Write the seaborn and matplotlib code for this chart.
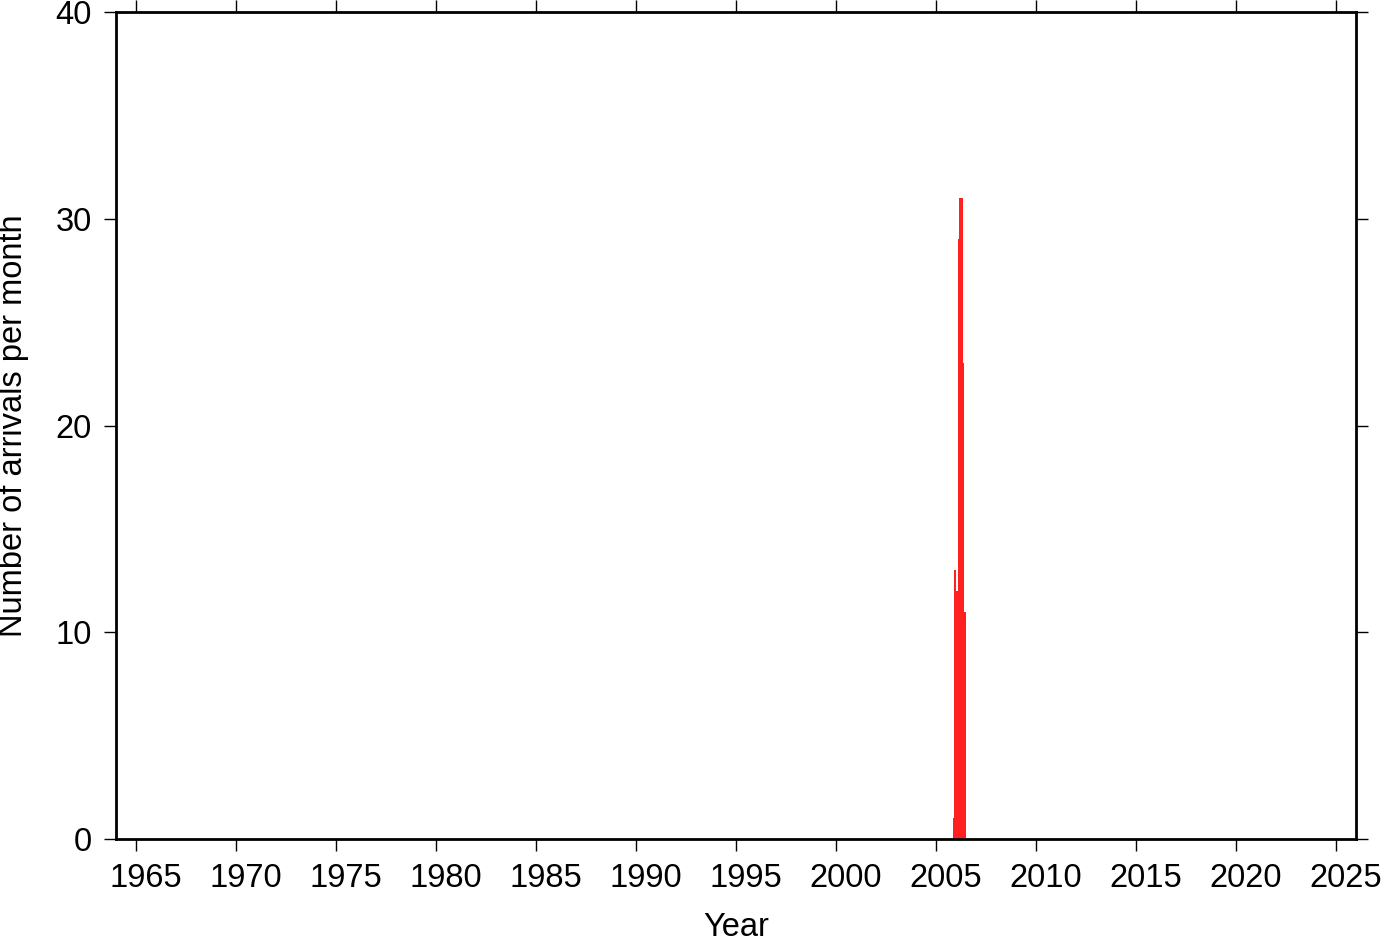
import numpy as np
import pandas as pd
import matplotlib
matplotlib.use("Agg")
import matplotlib.pyplot as plt
import matplotlib.transforms as mtransforms
import seaborn as sns

# Monthly arrival counts
months = ["2005-11", "2005-12", "2006-01", "2006-02", "2006-03", "2006-04", "2006-05", "2006-06"]
counts = [1, 13, 12, 29, 31, 31, 23, 11]

year_ticks = [1965, 1970, 1975, 1980, 1985, 1990, 1995, 2000, 2005, 2010, 2015, 2020, 2025]
count_ticks = [0, 10, 20, 30, 40]

sns.set_style("white")
plt.rcParams["font.family"] = ["Liberation Sans", "DejaVu Sans"]
plt.rcParams["text.color"] = "black"
plt.rcParams["axes.labelcolor"] = "black"
plt.rcParams["xtick.color"] = "black"
plt.rcParams["ytick.color"] = "black"

dec = [int(m[:4]) + (int(m[5:]) - 1) / 12 + 1 / 24 for m in months]
df = pd.DataFrame({"t": dec, "n": counts})

fig = plt.figure(figsize=(13.82, 9.42), dpi=100)
ax = fig.add_axes([116 / 1382, 1 - 839 / 942, 1240 / 1382, 827 / 942])

sns.histplot(data=df, x="t", weights="n", binwidth=1 / 12, binrange=(2005, 2007),
             color="#ff2020", alpha=1, edgecolor="none", linewidth=0, ax=ax)

ax.set_xlim(1964, 2026)
ax.set_ylim(0, 40)
ax.set_xticks(year_ticks)
ax.set_yticks(count_ticks)
ax.set_xlabel("Year", fontsize=23.5)
ax.set_ylabel("Number of arrivals per month", fontsize=23.5)
ax.xaxis.label.set_va("center")
ax.yaxis.label.set_va("center")
ax.xaxis.set_label_coords(0.5, (839 - 927) / 827)
ax.yaxis.set_label_coords((14 - 116) / 1240, 0.5)
ax.tick_params(axis="x", which="both", direction="out", length=8.5, width=1.0,
               labelsize=23.5, colors="black", top=True, bottom=True,
               labeltop=False, pad=9)
ax.tick_params(axis="y", which="both", direction="out", length=8.5, width=1.0,
               labelsize=23.5, colors="black", left=True, right=True,
               labelright=False, pad=9)
offset = mtransforms.ScaledTranslation(9.5 / 100, 0, fig.dpi_scale_trans)
for lab in ax.get_xticklabels():
    lab.set_transform(lab.get_transform() + offset)
for s in ax.spines.values():
    s.set_visible(True)
    s.set_linewidth(2)
    s.set_color("black")
ax.grid(False)

fig.savefig("out.png", dpi=100)
